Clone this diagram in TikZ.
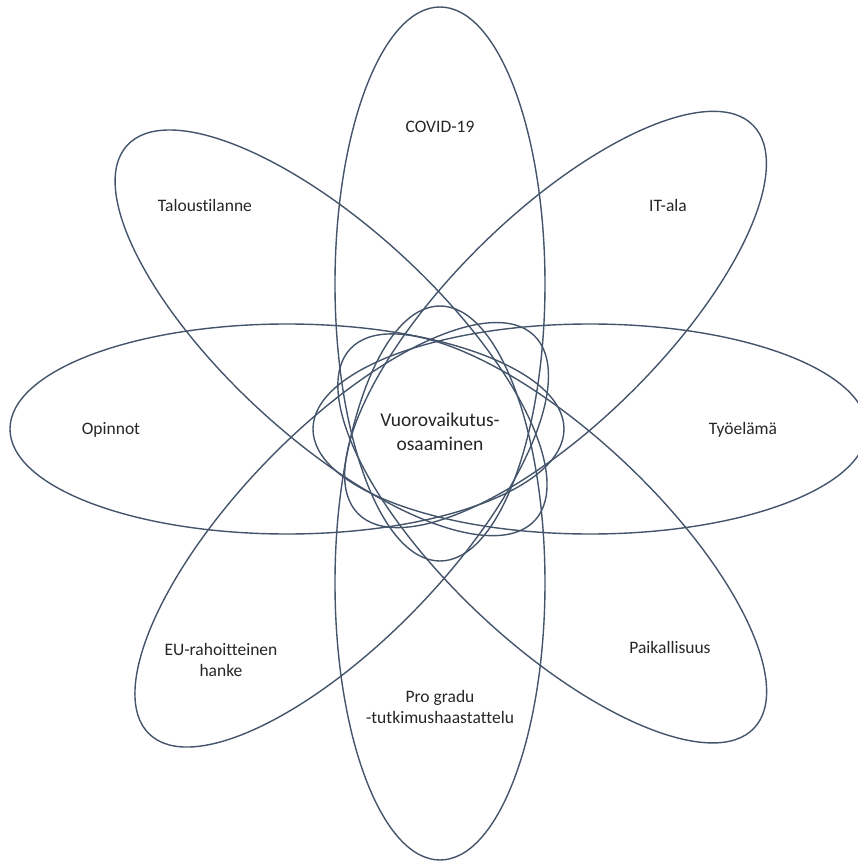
\documentclass[tikz,border=0pt]{standalone}
\usepackage{fontspec}
\setmainfont{Carlito}[Ligatures={NoCommon}]
\usepackage{xcolor}
\definecolor{petalLine}{HTML}{44546A}
\definecolor{labelDark}{HTML}{262626}
\usepackage{tikz}
\usetikzlibrary{shapes.geometric,positioning}
\tikzset{%
  petal/.style={%
    ellipse,
    draw=petalLine,
    line width=1.4pt,
    minimum width=554pt,
    minimum height=210pt,
    inner sep=0pt
  },
  petalLabel/.style={%
    text=labelDark,
    font=\fontsize{17.5}{21.5}\selectfont,
    align=center
  },
  coreLabel/.style={%
    text=labelDark,
    font=\fontsize{19.5}{23.5}\selectfont,
    align=center
  }
}

\begin{document}
\begin{tikzpicture}[x=1pt,y=1pt]
  \useasboundingbox (-440,-430) rectangle (418,433);

  % the eight petals around the core
  \node[petal, rotate=90]    (covidPetal)   at (0,149)         {};
  \node[petal, rotate=44.5]  (itPetal)      at (44.5:162)      {};
  \node[petal]               (workPetal)    at (150,4)         {};
  \node[petal, rotate=-43.2] (localPetal)   at (-43.2:154)     {};
  \node[petal, rotate=90]    (gradPetal)    at (0,-150)        {};
  \node[petal, rotate=46]    (euPetal)      at (226:141.5)     {};
  \node[petal]               (studyPetal)   at (-153,4)        {};
  \node[petal, rotate=-42.6] (economyPetal) at (137.4:148)     {};

  \node[coreLabel] (core) at (0,1) {Vuorovaikutus-\\osaaminen};

  \node[petalLabel] (covid)   at (0,306)     {COVID-19};
  \node[petalLabel] (it)      at (228,228)   {IT-ala};
  \node[petalLabel] (work)    at (303,3)     {Työelämä};
  \node[petalLabel] (local)   at (230,-214)  {Paikallisuus};
  \node[petalLabel] (grad)    at (0,-274)    {Pro gradu\\-tutkimushaastattelu};
  \node[petalLabel] (eu)      at (-219,-227) {EU-rahoitteinen\\hanke};
  \node[petalLabel] (study)   at (-329,3)    {Opinnot};
  \node[petalLabel] (economy) at (-235,228)  {Taloustilanne};
\end{tikzpicture}
\end{document}
